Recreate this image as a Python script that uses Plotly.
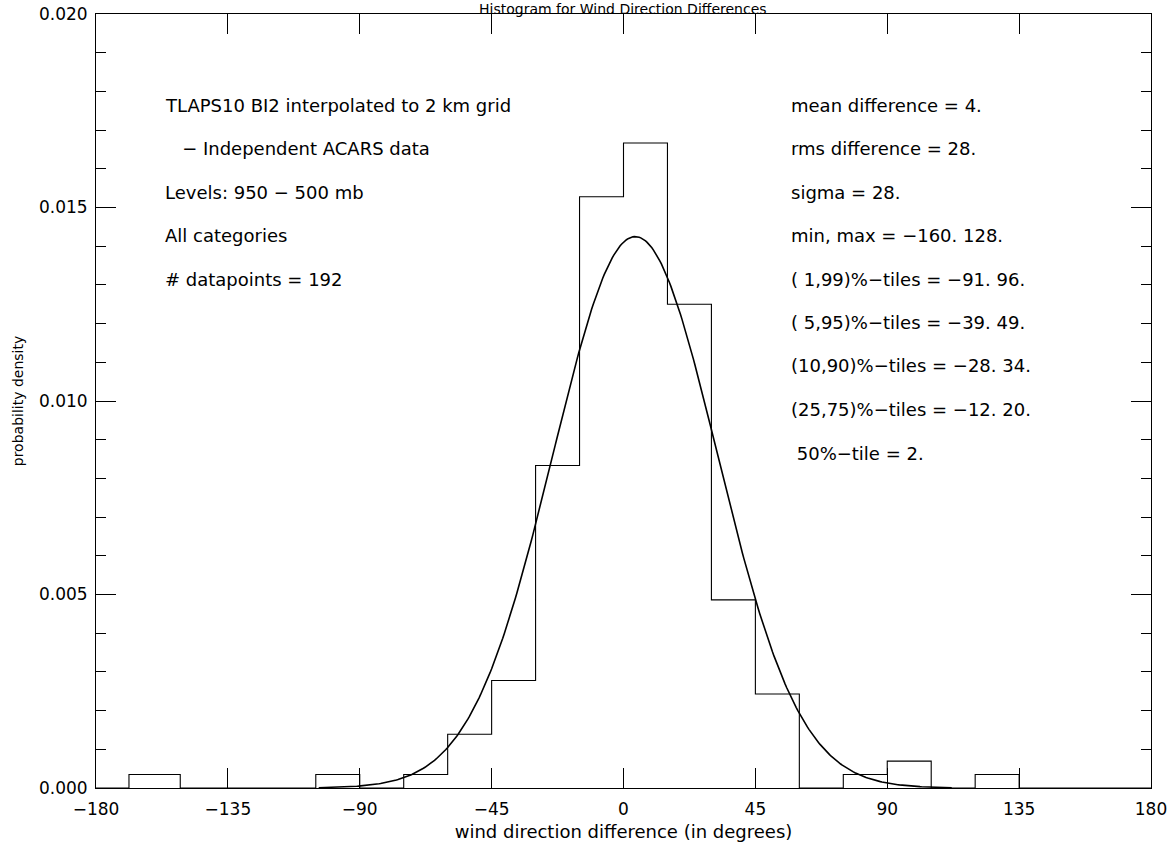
import numpy as np
import plotly.graph_objects as go

# Histogram of wind direction differences (bin edges in degrees, counts per bin)
bin_edges = [-180, -168.75, -151.25, -135, -120, -105, -90, -75, -60, -45, -30, -15,
             0, 15, 30, 45, 60, 75, 90, 105, 120, 135, 150, 165, 180]
bin_counts = [0, 1, 0, 0, 0, 1, 0, 1, 4, 8, 24, 44,
              48, 36, 14, 7, 0, 1, 2, 0, 1, 0, 0, 0]
n_points = 192
bin_size = 15

# Fitted normal curve parameters
fit_mean = 4.0
fit_sigma = 28.0
fit_range = [-104, 112]

x_ticks = [-180, -135, -90, -45, 0, 45, 90, 135, 180]
y_ticks = [0.0, 0.005, 0.010, 0.015, 0.020]

title_text = "Histogram for Wind Direction Differences"
left_lines = [
    "TLAPS10 BI2 interpolated to 2 km grid",
    "   − Independent ACARS data",
    "Levels: 950 − 500 mb",
    "All categories",
    "# datapoints = 192",
]
right_lines = [
    "mean difference = 4.",
    "rms difference = 28.",
    "sigma = 28.",
    "min, max = −160. 128.",
    "( 1,99)%−tiles = −91. 96.",
    "( 5,95)%−tiles = −39. 49.",
    "(10,90)%−tiles = −28. 34.",
    "(25,75)%−tiles = −12. 20.",
    " 50%−tile = 2.",
]

FONT = "DejaVu Sans"
W, H = 1171, 843
ML, MR, MT, MB = 96, 20, 14, 55
PW, PH = W - ML - MR, H - MT - MB


def px_to_paper(px, py):
    return (px - ML) / PW, (H - MB - py) / PH


def font(size):
    return dict(family=FONT, size=size, color="black")


density = [c / (n_points * bin_size) for c in bin_counts]
step_x = bin_edges
step_y = density + [density[-1]]

xs = np.linspace(fit_range[0], fit_range[1], 400)
ys = np.exp(-0.5 * ((xs - fit_mean) / fit_sigma) ** 2) / (fit_sigma * np.sqrt(2 * np.pi))

fig = go.Figure()
fig.add_trace(go.Scatter(
    x=step_x, y=step_y, mode="lines", line=dict(color="black", width=1.1, shape="hv"),
    hoverinfo="skip", showlegend=False,
))
fig.add_trace(go.Scatter(
    x=xs, y=ys, mode="lines", line=dict(color="black", width=1.6),
    hoverinfo="skip", showlegend=False,
))

annotations = []
line_gap = 43.5
for i, txt in enumerate(left_lines):
    px, py = px_to_paper(163, 105 + i * line_gap)
    annotations.append(dict(text=txt, x=px, y=py, xref="paper", yref="paper",
                            xanchor="left", yanchor="middle", showarrow=False,
                            font=font(18)))
for i, txt in enumerate(right_lines):
    px, py = px_to_paper(789, 105 + i * line_gap)
    annotations.append(dict(text=txt, x=px, y=py, xref="paper", yref="paper",
                            xanchor="left", yanchor="middle", showarrow=False,
                            font=font(18)))
tx, ty = px_to_paper(623, 9)
annotations.append(dict(text=title_text, x=tx, y=ty, xref="paper", yref="paper",
                        xanchor="center", yanchor="middle", showarrow=False,
                        font=font(14)))

axis_common = dict(
    showline=True, linecolor="black", linewidth=1, mirror="ticks",
    ticks="inside", ticklen=20, tickwidth=1, tickcolor="black",
    showgrid=False, zeroline=False, automargin=False,
    tickfont=font(17),
)

fig.update_layout(
    width=W, height=H,
    margin=dict(l=ML, r=MR, t=MT, b=MB, pad=0, autoexpand=False),
    paper_bgcolor="white", plot_bgcolor="white",
    annotations=annotations,
    xaxis=dict(
        range=[-180, 180], tickvals=x_ticks, ticklabelstandoff=6,
        title=dict(text="wind direction difference (in degrees)", standoff=6, font=font(18)),
        **axis_common,
    ),
    yaxis=dict(
        range=[0, 0.020], tickvals=y_ticks, tickformat=".3f", ticklabelstandoff=4,
        minor=dict(dtick=0.001, ticks="inside", ticklen=10, tickcolor="black", tickwidth=1),
        title=dict(text="probability density", standoff=12, font=font(14)),
        **axis_common,
    ),
)

fig.write_html("out.html")
